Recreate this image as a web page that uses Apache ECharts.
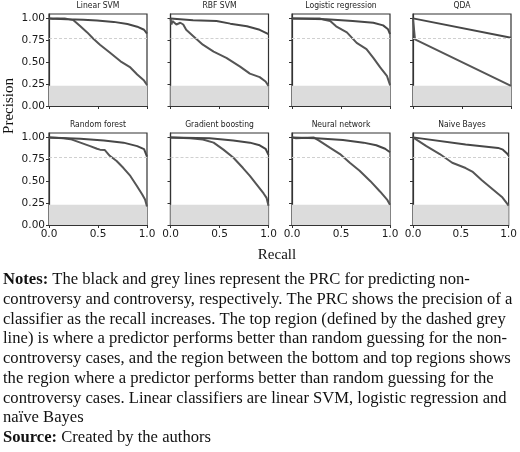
<!DOCTYPE html>
<html>
<head>
<meta charset="utf-8">
<script src="https://cdn.jsdelivr.net/npm/echarts@6/dist/echarts.min.js"></script>
<style>
html,body{margin:0;padding:0;background:#fff;}
#chart{width:520px;height:452px;}
</style>
</head>
<body>
<div id="chart"></div>
<script>
// ---- Data (recall, precision) ----
const panelTitles = ['Linear SVM','RBF SVM','Logistic regression','QDA','Random forest','Gradient boosting','Neural network','Naive Bayes'];

// non-controversy (black) curves
const linearSvmNon = [[0,1.0],[0.18,0.99],[0.35,0.985],[0.49,0.975],[0.66,0.96],[0.8,0.935],[0.9,0.905],[0.97,0.87],[1.0,0.825]];
const rbfSvmNon = [[0,1.0],[0.23,0.98],[0.47,0.97],[0.61,0.94],[0.78,0.91],[0.91,0.87],[1.0,0.82]];
const logRegNon = [[0,1.0],[0.35,0.99],[0.62,0.97],[0.83,0.95],[0.93,0.92],[0.98,0.875],[1.0,0.82]];
const qdaNon = [[0,1.0],[1.0,0.78]];
const randForestNon = [[0,1.0],[0.32,0.985],[0.56,0.965],[0.76,0.94],[0.9,0.9],[0.97,0.865],[0.99,0.81],[1.0,0.78]];
const gradBoostNon = [[0,1.0],[0.4,0.99],[0.64,0.965],[0.81,0.94],[0.91,0.91],[0.97,0.87],[1.0,0.8]];
const neuralNetNon = [[0,1.0],[0.25,0.99],[0.52,0.97],[0.73,0.94],[0.86,0.91],[0.95,0.87],[1.0,0.83]];
const naiveBayesNon = [[0,1.0],[0.55,0.92],[0.89,0.88],[0.94,0.86],[0.98,0.82],[1.0,0.79]];

// controversy (grey) curves
const linearSvmCon = [[0,1.0],[0.04,0.995],[0.08,1.0],[0.16,1.0],[0.18,0.99],[0.25,0.98],[0.32,0.91],[0.39,0.84],[0.45,0.77],[0.52,0.70],[0.62,0.61],[0.73,0.51],[0.83,0.44],[0.9,0.36],[0.97,0.29],[1.0,0.24]];
const rbfSvmCon = [[0,1.0],[0.01,0.93],[0.02,0.97],[0.04,0.99],[0.06,0.93],[0.1,0.95],[0.13,0.93],[0.16,0.87],[0.23,0.80],[0.33,0.70],[0.44,0.62],[0.57,0.55],[0.71,0.45],[0.81,0.37],[0.91,0.33],[0.97,0.28],[1.0,0.23]];
const logRegCon = [[0,1.0],[0.28,1.0],[0.33,0.985],[0.39,0.97],[0.45,0.91],[0.56,0.84],[0.66,0.72],[0.76,0.65],[0.83,0.55],[0.9,0.44],[0.97,0.34],[1.0,0.24]];
const qdaCon = [[0,1.0],[0.02,0.76],[1.0,0.23]];
const randForestCon = [[0,1.0],[0.15,0.99],[0.22,0.98],[0.23,0.96],[0.32,0.94],[0.42,0.9],[0.49,0.87],[0.52,0.86],[0.57,0.855],[0.62,0.79],[0.69,0.73],[0.76,0.65],[0.83,0.56],[0.9,0.44],[0.95,0.35],[0.98,0.29],[1.0,0.21]];
const gradBoostCon = [[0,1.0],[0.2,0.99],[0.33,0.975],[0.44,0.94],[0.54,0.86],[0.64,0.77],[0.74,0.65],[0.81,0.56],[0.88,0.46],[0.95,0.36],[0.98,0.31],[1.0,0.22]];
const neuralNetCon = [[0,1.0],[0.04,0.99],[0.22,1.0],[0.28,0.96],[0.39,0.88],[0.49,0.81],[0.59,0.71],[0.69,0.62],[0.8,0.5],[0.9,0.38],[0.97,0.29],[1.0,0.23]];
const naiveBayesCon = [[0,1.0],[0.14,0.9],[0.28,0.81],[0.41,0.71],[0.55,0.65],[0.62,0.61],[0.72,0.51],[0.82,0.42],[0.93,0.32],[1.0,0.22]];

const controversyBaseline = 0.23;     // top of grey band
const nonControversyBaseline = 0.77;  // dashed grey line

const xTicks = [0, 0.5, 1.0];
const yTicks = [0, 0.25, 0.5, 0.75, 1.0];

const noteLines = [
  '{b|Notes:} The black and grey lines represent the PRC for predicting non-',
  'controversy and controversy, respectively. The PRC shows the precision of a',
  'classifier as the recall increases. The top region (defined by the dashed grey',
  'line) is where a predictor performs better than random guessing for the non-',
  'controversy cases, and the region between the bottom and top regions shows',
  'the region where a predictor performs better than random guessing for the',
  'controversy cases. Linear classifiers are linear SVM, logistic regression and',
  'naïve Bayes',
  '{b|Source:} Created by the authors'
];

const nonCurves = [linearSvmNon, rbfSvmNon, logRegNon, qdaNon, randForestNon, gradBoostNon, neuralNetNon, naiveBayesNon];
const conCurves = [linearSvmCon, rbfSvmCon, logRegCon, qdaCon, randForestCon, gradBoostCon, neuralNetCon, naiveBayesCon];

// ---- Layout ----
const colLeft = [49, 170.5, 292, 413];
const rowTop = [14, 133];
const gw = 98, gh = 92;

const grids = [], xAxes = [], yAxes = [], series = [], titles = [];
const axisColor = '#333';
const tickFont = {fontFamily: 'DejaVu Sans', fontSize: 10.5, color: '#1a1a1a'};

for (let i = 0; i < 8; i++) {
  const r = Math.floor(i / 4), c = i % 4;
  grids.push({left: colLeft[c], top: rowTop[r], width: gw, height: gh,
    show: true, borderColor: axisColor, borderWidth: 1.2, backgroundColor: 'transparent'});
  xAxes.push({gridIndex: i, type: 'value', min: 0, max: 1,
    axisLine: {show: true, onZero: false, lineStyle: {color: axisColor, width: 1.2}},
    axisTick: {show: true, inside: false, length: 3, customValues: xTicks, lineStyle: {color: axisColor}},
    axisLabel: {show: r === 1, customValues: xTicks, margin: 4, ...tickFont,
      formatter: v => v.toFixed(1)},
    splitLine: {show: false}});
  yAxes.push({gridIndex: i, type: 'value', min: 0, max: 1.05,
    axisLine: {show: true, onZero: false, lineStyle: {color: axisColor, width: 1.2}},
    axisTick: {show: true, inside: false, length: 3, customValues: yTicks, lineStyle: {color: axisColor}},
    axisLabel: {show: c === 0, customValues: yTicks, margin: 4, ...tickFont,
      formatter: v => v.toFixed(2)},
    splitLine: {show: false}});
  // band + dashed baseline
  series.push({type: 'line', xAxisIndex: i, yAxisIndex: i, data: [], z: 1, silent: true,
    markArea: {silent: true, itemStyle: {color: '#dcdcdc'},
      data: [[{xAxis: 0, yAxis: 0}, {xAxis: 1, yAxis: controversyBaseline}]]},
    markLine: {silent: true, symbol: 'none', label: {show: false},
      lineStyle: {color: '#d0d0d0', type: [3, 2], width: 1},
      data: [{yAxis: nonControversyBaseline}]}
  });
  series.push({type: 'line', xAxisIndex: i, yAxisIndex: i, data: conCurves[i], z: 3,
    showSymbol: false, symbol: 'none', lineStyle: {color: '#555', width: 2}});
  series.push({type: 'line', xAxisIndex: i, yAxisIndex: i, data: nonCurves[i], z: 4,
    showSymbol: false, symbol: 'none', lineStyle: {color: '#474747', width: 2}});
  titles.push({text: panelTitles[i], left: colLeft[c] + gw / 2, top: rowTop[r] - 13, padding: 0,
    textAlign: 'center',
    textStyle: {fontFamily: 'DejaVu Sans Condensed, DejaVu Sans', fontSize: 8.5, fontWeight: 'normal', color: '#222'}});
}

const graphics = [
  {type: 'text', x: 9, y: 106, rotation: Math.PI / 2,
    style: {text: 'Precision', font: '15px "Liberation Serif"', fill: '#111', align: 'center', verticalAlign: 'middle'}},
  {type: 'text', x: 277, y: 255,
    style: {text: 'Recall', font: '15px "Liberation Serif"', fill: '#111', align: 'center', verticalAlign: 'middle'}}
];
noteLines.forEach((t, k) => {
  graphics.push({type: 'text', x: 3, y: 280 + k * 19.7,
    style: {text: t, fontFamily: 'Liberation Serif', fontSize: 16.6, fill: '#111',
      verticalAlign: 'middle', align: 'left',
      rich: {b: {fontFamily: 'Liberation Serif', fontSize: 16.6, fontWeight: 'bold', fill: '#111', color: '#111'}}}});
});

const chart = echarts.init(document.getElementById('chart'), null, {renderer: 'canvas'});
chart.setOption({
  animation: false,
  backgroundColor: '#fff',
  title: titles,
  grid: grids,
  xAxis: xAxes,
  yAxis: yAxes,
  series: series,
  graphic: graphics
});
</script>
</body>
</html>
